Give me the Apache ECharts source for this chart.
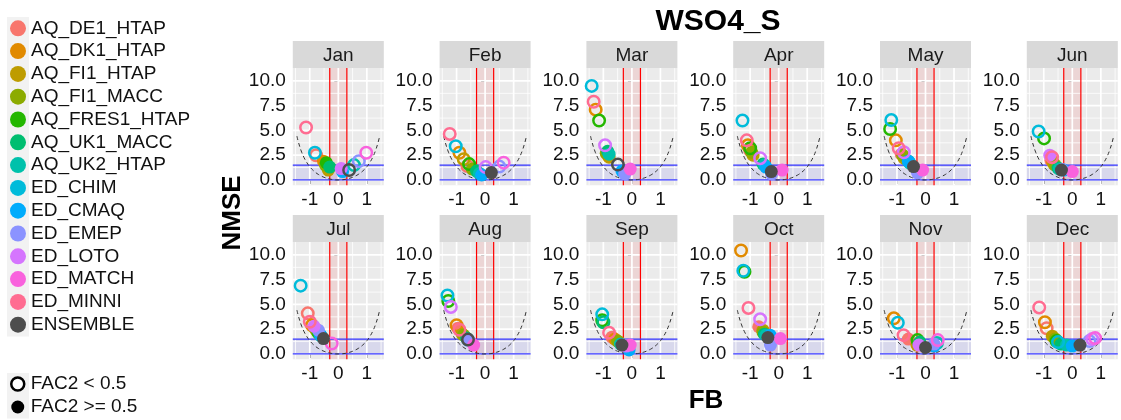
<!DOCTYPE html>
<html><head><meta charset="utf-8">
<script src="https://cdn.jsdelivr.net/npm/echarts@6/dist/echarts.min.js"></script>
<style>html,body{margin:0;padding:0;background:#fff}#chart{width:1121px;height:420px}</style>
</head><body><div id="chart"></div>
<script>
// ---------- data ----------
const months = ['Jan','Feb','Mar','Apr','May','Jun','Jul','Aug','Sep','Oct','Nov','Dec'];
const models = ['AQ_DE1_HTAP','AQ_DK1_HTAP','AQ_FI1_HTAP','AQ_FI1_MACC','AQ_FRES1_HTAP','AQ_UK1_MACC','AQ_UK2_HTAP','ED_CHIM','ED_CMAQ','ED_EMEP','ED_LOTO','ED_MATCH','ED_MINNI','ENSEMBLE'];
const modelColors = ['#F8766D','#E18A00','#BE9C00','#8CAB00','#24B700','#00BE70','#00C1AB','#00BBDA','#00ACFC','#8B93FF','#D575FE','#F962DD','#FF6C91','#4D4D4D'];
const fac2Labels = ['FAC2 < 0.5','FAC2 >= 0.5'];
const xTicks = [-1, 0, 1];
const yTicks = [0, 2.5, 5, 7.5, 10];
const xMinor = [-1.5, -0.5, 0.5, 1.5];
const yMinor = [1.25, 3.75, 6.25, 8.75];
const fbLimits = [-0.3, 0.3];
const nmseLimits = [0, 1.5];
// minimum-NMSE bound (dashed), FB vs NMSE
const boundFB   = [-1.45,-1.4,-1.3,-1.2,-1.1,-1.0,-0.9,-0.8,-0.7,-0.6,-0.5,-0.4,-0.3,-0.2,-0.1,0,0.1,0.2,0.3,0.4,0.5,0.6,0.7,0.8,0.9,1.0,1.1,1.2,1.3,1.4,1.45];
const boundNMSE = [4.43,3.84,2.93,2.25,1.74,1.33,1.02,0.76,0.56,0.40,0.27,0.17,0.09,0.04,0.01,0,0.01,0.04,0.09,0.17,0.27,0.40,0.56,0.76,1.02,1.33,1.74,2.25,2.93,3.84,4.43];
// per month, in model order: [FB, NMSE, FAC2>=0.5 ? 1 : 0]
const jan = [[-0.78,2.5,0],[-0.52,1.9,1],[-0.35,1.0,1],[-0.45,1.5,1],[-0.42,1.75,1],[-0.3,1.3,1],[0.55,1.5,0],[-0.82,2.75,0],[0.15,0.85,1],[0.72,1.9,0],[0.1,1.15,1],[0.98,2.75,0],[-1.13,5.3,0],[0.38,1.0,0]];
const feb = [[-0.62,1.4,0],[-0.9,2.75,0],[-0.75,2.1,0],[-0.45,1.1,1],[-0.56,1.6,0],[-0.3,0.9,1],[-0.2,0.65,1],[-1.03,3.4,0],[-0.12,0.5,1],[0.5,1.35,0],[0.02,1.3,0],[0.65,1.75,0],[-1.24,4.65,0],[0.22,0.75,1]];
const mar = [[-0.85,2.5,1],[-1.27,7.1,0],[-0.8,2.3,1],[-0.9,2.7,1],[-1.15,6.0,0],[-0.85,2.9,1],[-0.8,2.6,1],[-1.41,9.5,0],[-0.35,0.9,1],[-0.25,0.6,1],[-0.94,3.5,0],[-0.06,1.1,1],[-1.34,7.9,0],[-0.49,1.55,0]];
const apr = [[-1.0,3.0,0],[-1.08,3.5,0],[-0.9,2.5,1],[-0.95,2.8,1],[-1.0,3.2,0],[-0.55,1.6,1],[-0.5,1.5,1],[-1.27,6.0,0],[-0.45,1.3,1],[-0.25,0.6,1],[-0.65,2.2,0],[0.12,1.0,1],[-1.12,4.0,0],[-0.26,0.85,1]];
const may = [[-0.85,2.6,1],[-1.04,4.0,0],[-0.75,2.2,1],[-0.8,2.5,1],[-1.24,5.15,0],[-0.6,1.9,1],[-0.55,1.7,1],[-1.2,6.05,0],[-0.6,1.9,1],[-0.28,0.7,1],[-0.76,2.8,0],[-0.1,1.0,1],[-0.94,3.2,0],[-0.42,1.35,1]];
const jun = [[-0.75,2.0,1],[-0.7,1.9,1],[-0.65,1.6,1],[-0.6,1.5,1],[-0.99,4.2,0],[-0.5,1.2,1],[-0.45,1.1,1],[-1.18,4.9,0],[-0.3,1.0,1],[-0.35,1.05,1],[-0.79,2.5,1],[0.0,0.85,1],[-0.71,2.3,0],[-0.38,1.0,1]];
const jul = [[-1.07,4.1,0],[-0.92,2.9,0],[-0.8,2.5,1],[-0.75,2.3,1],[-0.7,2.1,1],[-0.65,2.0,1],[-0.6,1.8,1],[-1.32,6.9,0],[-0.62,1.9,1],[-0.7,2.4,1],[-0.85,2.8,1],[-0.23,1.05,0],[-1.0,3.25,0],[-0.52,1.55,1]];
const aug = [[-0.95,2.6,1],[-1.0,2.9,0],[-0.8,2.0,1],[-0.75,1.9,1],[-1.29,5.35,0],[-0.65,1.6,1],[-0.62,1.5,1],[-1.32,5.9,0],[-0.6,1.4,1],[-0.58,1.4,1],[-1.2,4.75,0],[-0.4,0.9,1],[-0.9,2.45,0],[-0.6,1.45,0]];
const sep = [[-0.7,1.7,1],[-0.6,1.5,1],[-0.45,1.2,1],[-0.5,1.3,1],[-1.04,3.4,0],[-1.0,3.2,0],[-0.4,1.0,1],[-1.04,4.0,0],[-0.1,0.4,1],[-0.3,0.9,1],[-0.2,0.8,1],[-0.06,0.9,1],[-0.8,2.15,0],[-0.35,0.9,1]];
const oct = [[-0.7,2.75,1],[-1.32,10.45,0],[-0.55,2.4,1],[-0.55,2.2,1],[-1.2,8.3,0],[-0.5,2.0,1],[-0.45,1.9,1],[-1.24,8.4,0],[-0.3,1.9,1],[-0.29,0.9,1],[-0.65,3.5,0],[0.06,1.55,1],[-1.06,4.65,0],[-0.38,1.65,1]];
const nov = [[-0.6,1.5,1],[-1.11,3.6,0],[-0.3,0.9,1],[-0.25,1.0,1],[-0.28,1.4,0],[-0.2,1.2,1],[0.4,1.1,0],[-0.97,3.15,0],[0.3,0.8,1],[0.3,1.0,1],[-0.23,0.9,1],[0.43,1.4,0],[-0.77,1.9,0],[0.0,0.65,1]];
const dec = [[-0.9,2.6,0],[-0.96,3.2,0],[-0.7,1.8,1],[-0.6,1.5,1],[-0.55,1.3,0],[-0.4,1.0,1],[-0.2,0.9,1],[-0.5,1.2,0],[0.0,0.8,1],[0.6,1.3,0],[0.7,1.5,0],[0.8,1.6,0],[-1.16,4.7,0],[0.27,0.9,1]];
const monthData = [jan,feb,mar,apr,may,jun,jul,aug,sep,oct,nov,dec];

// ---------- layout / style ----------
const FONT = '"Liberation Sans", Arial, sans-serif';
const GW = 91, GH = 117.2, STRIP_H = 27;
const colLeft = c => 292.8 + 146.8 * c;
const rowTop = [68.1, 242.1];
const X_RANGE = [-1.595, 1.595];
const Y_RANGE = [-0.54, 11.3];

const grids = [], xAxes = [], yAxes = [], series = [], graphics = [];

function refLine(i, vertical, v, color, width, z) {
  const data = vertical ? [[v, Y_RANGE[0]], [v, Y_RANGE[1]]] : [[X_RANGE[0], v], [X_RANGE[1], v]];
  return {type: 'line', xAxisIndex: i, yAxisIndex: i, data, silent: true, z, animation: false,
    symbol: 'none', clip: true, lineStyle: {color, width, type: 'solid'}, emphasis: {disabled: true}};
}

months.forEach((m, i) => {
  const r = Math.floor(i / 6), c = i % 6;
  const left = colLeft(c), top = rowTop[r];
  grids.push({left, top, width: GW, height: GH, show: true, backgroundColor: '#EBEBEB', borderWidth: 0});
  xAxes.push({type: 'value', gridIndex: i, min: X_RANGE[0], max: X_RANGE[1],
    axisLine: {show: false},
    axisTick: {show: true, customValues: xTicks, length: 4, lineStyle: {color: '#333', width: 1}},
    axisLabel: {customValues: xTicks, fontSize: 19, color: '#111', margin: 5, fontFamily: FONT},
    splitLine: {show: false}});
  yAxes.push({type: 'value', gridIndex: i, min: Y_RANGE[0], max: Y_RANGE[1],
    axisLine: {show: false},
    axisTick: {show: true, customValues: yTicks, length: 4, lineStyle: {color: '#333', width: 1}},
    axisLabel: {customValues: yTicks, fontSize: 19, color: '#111', margin: 7, fontFamily: FONT,
      formatter: v => Number(v).toFixed(1)},
    splitLine: {show: false}});
  // strip
  graphics.push({type: 'rect', shape: {x: left, y: top - STRIP_H, width: GW, height: STRIP_H}, style: {fill: '#D9D9D9'}, silent: true});
  graphics.push({type: 'text', x: left + GW / 2, y: top - STRIP_H / 2 + 1, silent: true,
    style: {text: m, font: '19px ' + FONT, fill: '#1A1A1A', textAlign: 'center', textVerticalAlign: 'middle'}});
  // grid lines
  xMinor.forEach(v => series.push(refLine(i, true, v, '#FFFFFF', 0.8, 2)));
  yMinor.forEach(v => series.push(refLine(i, false, v, '#FFFFFF', 0.8, 2)));
  xTicks.forEach(v => series.push(refLine(i, true, v, '#FFFFFF', 1.7, 2)));
  yTicks.forEach(v => series.push(refLine(i, false, v, '#FFFFFF', 1.7, 2)));
  // bands
  series.push({type: 'line', xAxisIndex: i, yAxisIndex: i, data: [], silent: true, z: 3, animation: false,
    markArea: {silent: true, animation: false, data: [
      [{xAxis: fbLimits[0], itemStyle: {color: 'rgba(255,0,0,0.09)'}}, {xAxis: fbLimits[1]}],
      [{yAxis: nmseLimits[0], itemStyle: {color: 'rgba(0,0,255,0.08)'}}, {yAxis: nmseLimits[1]}]
    ]}});
  // limit lines
  fbLimits.forEach(v => series.push(refLine(i, true, v, '#FF0000', 1.2, 4)));
  nmseLimits.forEach(v => series.push(refLine(i, false, v, '#3333FF', 1.2, 4)));
  // bound curve
  series.push({type: 'line', xAxisIndex: i, yAxisIndex: i, silent: true, z: 5, animation: false,
    data: boundFB.map((x, k) => [x, boundNMSE[k]]), smooth: 0.4, symbol: 'none',
    lineStyle: {color: '#333333', width: 1, type: [4, 3]}});
  // points per model
  models.forEach((name, k) => {
    const p = monthData[i][k];
    const col = modelColors[k];
    series.push({type: 'scatter', name, xAxisIndex: i, yAxisIndex: i, z: 6, animation: false,
      symbol: 'circle', itemStyle: {color: col, opacity: 1},
      data: [p[2] ? {value: [p[0], p[1]], symbolSize: 13, itemStyle: {color: col, borderWidth: 0, opacity: 1}}
                  : {value: [p[0], p[1]], symbolSize: 11.5, itemStyle: {color: 'rgba(0,0,0,0)', borderColor: col, borderWidth: 2.5, opacity: 1}}]});
  });
});
// FAC2 legend entries
fac2Labels.forEach(name => series.push({type: 'scatter', name, xAxisIndex: 0, yAxisIndex: 0, data: [], itemStyle: {opacity: 1}}));

// legend key backgrounds
graphics.push({type: 'rect', shape: {x: 7, y: 17, width: 22, height: 319.5}, style: {fill: '#F2F2F2'}, silent: true, z: -10});
graphics.push({type: 'rect', shape: {x: 7, y: 373, width: 22, height: 45.5}, style: {fill: '#F2F2F2'}, silent: true, z: -10});
// axis titles
graphics.push({type: 'text', x: 706, y: 401, silent: true,
  style: {text: 'FB', font: 'bold 26px ' + FONT, fill: '#000', textAlign: 'center', textVerticalAlign: 'middle'}});
graphics.push({type: 'text', x: 233, y: 213, rotation: Math.PI / 2, silent: true,
  style: {text: 'NMSE', font: 'bold 26px ' + FONT, fill: '#000', textAlign: 'center', textVerticalAlign: 'middle'}});

const chart = echarts.init(document.getElementById('chart'), null, {renderer: 'canvas'});
chart.setOption({
  animation: false,
  backgroundColor: '#FFFFFF',
  title: {text: 'WSO4_S', left: 713, top: 2, textAlign: 'center',
    textStyle: {fontSize: 30, fontWeight: 'bold', color: '#000', fontFamily: FONT}},
  legend: [
    {orient: 'vertical', left: 10, top: 18.3, padding: 0, itemWidth: 16, itemHeight: 16, itemGap: 2.8,
     icon: 'circle', selectedMode: false, data: models, itemStyle: {opacity: 1},
     textStyle: {fontSize: 19, lineHeight: 20, color: '#111', fontFamily: FONT}},
    {orient: 'vertical', left: 10, top: 374, padding: 0, itemWidth: 16, itemHeight: 13, itemGap: 3,
     selectedMode: false,
     data: [
       {name: fac2Labels[0], icon: 'circle', itemStyle: {color: '#FFFFFF', borderColor: '#000', borderWidth: 2.5, opacity: 1}},
       {name: fac2Labels[1], icon: 'circle', itemStyle: {color: '#000', borderWidth: 0, opacity: 1}}
     ],
     textStyle: {fontSize: 19, lineHeight: 20, color: '#111', fontFamily: FONT}}
  ],
  grid: grids, xAxis: xAxes, yAxis: yAxes, series, graphic: graphics
});
</script></body></html>
